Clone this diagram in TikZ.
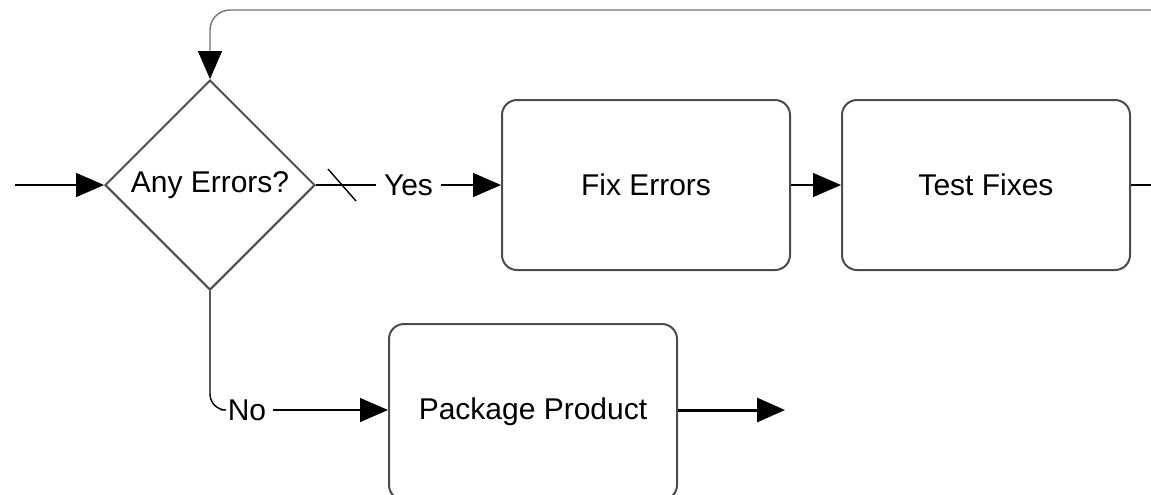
\documentclass[tikz,border=0pt]{standalone}
\usepackage{fontspec}
\setmainfont{Liberation Sans}
\usetikzlibrary{shapes.geometric,arrows.meta}

\begin{document}
\begin{tikzpicture}[x=0.5pt,y=-0.5pt,
	font=\fontsize{15}{18}\selectfont,
	>={Triangle[length=14pt,width=12pt]},
	stepbox/.style={draw=black!70, line width=1pt, rounded corners=7.5pt, minimum width=144pt, minimum height=85pt},
	decision/.style={draw=black!70, line width=1pt, diamond, aspect=1, inner sep=0pt, minimum width=105pt, minimum height=105pt},
	flow/.style={line width=0.7pt}]
	
	\useasboundingbox (0,0) rectangle (1151,494);
	
	\node[decision] (dec) at (210,185) {Any Errors?};
	\node[stepbox] (fix) at (646,185) {Fix Errors};
	\node[stepbox] (tf) at (986,185) {Test Fixes};
	\node[stepbox,minimum height=88pt] (pkg) at (533,412) {Package Product};
	\node (no) at (247,410) {No};
	
	\coordinate (in) at (15,185);
	\coordinate (back) at (1151,10);
	\coordinate (cont) at (1151,185);
	\coordinate (cut) at (342,185);
	\coordinate (out) at (785,410);
	
	\draw[flow,->] (in) -- (dec.west);
	\draw[flow,black!55,rounded corners=10pt,-{Triangle[length=14pt,width=12pt,black]}] (back) -| (dec.north);
	\draw[flow,->] (dec.east) -- node[fill=white,inner sep=4pt] {Yes} (fix.west);
	\draw[flow] (cut) ++(-14,-16) -- ++(28,32);
	\draw[flow,->] (fix) -- (tf);
	\draw[flow] (tf) -- (cont);
	\draw[flow,rounded corners=8pt] (dec.south) |- (no.west);
	\draw[flow,->] (no) -- (pkg.west |- no);
	\draw[line width=1.5pt,->] (pkg.east |- out) -- (out);
	
\end{tikzpicture}
\end{document}
